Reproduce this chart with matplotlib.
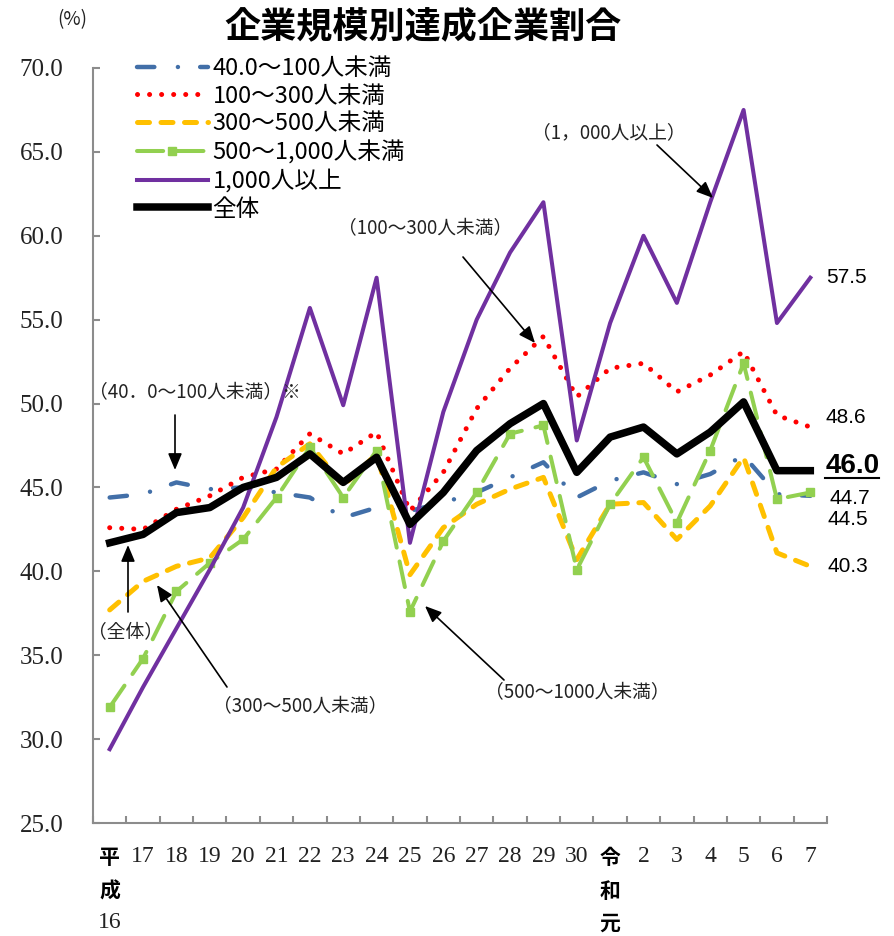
import numpy as np
import matplotlib
matplotlib.use("Agg")
import matplotlib.pyplot as plt
import matplotlib.transforms as mtransforms
from matplotlib.lines import Line2D

# Fiscal years (Heisei 16 .. Heisei 30, Reiwa 1 .. Reiwa 7)
years = ["平成16", "17", "18", "19", "20", "21", "22", "23", "24", "25", "26",
         "27", "28", "29", "30", "令和元", "2", "3", "4", "5", "6", "7"]

# Achievement rate (%) by company size
rate_40_100 = [44.4, 44.6, 45.3, 44.9, 45.0, 44.7, 44.4, 43.2, 43.8, 43.6, 44.1,
               44.7, 45.6, 46.5, 44.4, 45.4, 45.9, 45.2, 45.8, 46.9, 44.6, 44.5]
rate_100_300 = [42.6, 42.5, 43.7, 44.5, 45.6, 46.1, 48.2, 47.0, 48.3, 43.6, 45.9,
                49.7, 52.1, 54.0, 50.4, 52.1, 52.4, 50.7, 51.7, 53.1, 49.3, 48.6]
rate_300_500 = [37.7, 39.4, 40.3, 40.8, 43.2, 46.2, 47.6, 45.1, 47.0, 39.8, 42.6,
                44.0, 44.9, 45.6, 40.7, 44.0, 44.1, 41.9, 43.9, 46.8, 41.1, 40.3]
rate_500_1000 = [31.9, 34.8, 38.8, 40.5, 41.9, 44.4, 47.4, 44.4, 47.2, 37.6, 41.8,
                 44.7, 48.2, 48.7, 40.1, 44.0, 46.8, 42.9, 47.2, 52.4, 44.3, 44.7]
rate_1000_over = [29.4, 33.1, 36.6, 40.1, 43.8, 49.2, 55.7, 49.9, 57.5, 41.7, 49.5,
                  55.0, 59.0, 62.0, 47.8, 54.8, 60.0, 56.0, 62.0, 67.5, 54.8, 57.5]
rate_total = [41.7, 42.2, 43.5, 43.8, 45.0, 45.6, 47.0, 45.3, 46.8, 42.8, 44.7,
              47.2, 48.8, 50.0, 45.9, 48.0, 48.6, 47.0, 48.3, 50.1, 46.0, 46.0]

series_names = ["40.0～100人未満", "100～300人未満", "300～500人未満",
                "500～1,000人未満", "1,000人以上", "全体"]

JP = ["Noto Sans CJK JP", "DejaVu Sans"]
SERIF = ["Liberation Serif", "DejaVu Serif"]
SANS = ["Liberation Sans", "DejaVu Sans"]
GRAY = "#8c8c8c"
TXT = "#222222"

plt.rcParams["font.family"] = JP

W, H = 895, 936
fig = plt.figure(figsize=(W / 100, H / 100), dpi=100)
ax = fig.add_axes([93 / W, 1 - 823 / H, (827 - 93) / W, (823 - 68) / H])

x = np.arange(len(years))

ax.plot(x, rate_40_100, color="#426FA8", lw=3.2,
        linestyle=(0, (3.9, 5.3, 0.01, 5.0)), dash_capstyle="round",
        label=series_names[0], zorder=2)
ax.plot(x, rate_100_300, color="#FF0000", lw=3.6,
        linestyle=(0, (0.01, 2.4)), dash_capstyle="round",
        label=series_names[1], zorder=3)
ax.plot(x, rate_300_500, color="#FFC000", lw=3.6,
        linestyle=(0, (2.4, 2.3)), dash_capstyle="round",
        label=series_names[2], zorder=4)
ax.plot(x, rate_500_1000, color="#92D050", lw=2.9,
        linestyle=(0, (6.5, 3.5)), dash_capstyle="round",
        marker="s", markersize=6.2, markerfacecolor="#92D050",
        markeredgecolor="#92D050", label=series_names[3], zorder=5)
ax.plot(x, rate_1000_over, color="#7030A0", lw=2.9,
        label=series_names[4], zorder=6)
ax.plot(x, rate_total, color="black", lw=5.4,
        label=series_names[5], zorder=7)

# Axes
ax.set_xlim(-0.5, len(years) - 0.5)
ax.set_ylim(25, 70)
yt = np.arange(25, 70.1, 5)
ax.set_yticks(yt)
ax.set_yticklabels([f"{v:.1f}" for v in yt], fontfamily=SERIF, fontsize=18,
                   color=TXT)
ax.tick_params(axis="y", direction="in", length=5, width=1.5, color=GRAY,
               pad=21.5)
ax.set_xticks(np.arange(-0.5, len(years), 1))
ax.set_xticklabels([])
ax.tick_params(axis="x", direction="in", length=5, width=1.5, color=GRAY)
for side in ("top", "right"):
    ax.spines[side].set_visible(False)
for side in ("left", "bottom"):
    ax.spines[side].set_color(GRAY)
    ax.spines[side].set_linewidth(1.5)

# Category labels (era names stacked vertically)
trans = mtransforms.blended_transform_factory(ax.transData, fig.transFigure)
rows = [1 - 857 / H, 1 - 891 / H, 1 - 923 / H]
for i, lab in enumerate(years):
    if lab[0] in "平令":
        parts = [lab[0], lab[1], lab[2:]]
    else:
        parts = [lab]
    for r, p in enumerate(parts):
        if p.isdigit():
            ax.text(i, rows[r], p, transform=trans, ha="center", va="center",
                    fontfamily=SERIF, fontsize=17, color=TXT)
        else:
            ax.text(i, rows[r], p, transform=trans, ha="center", va="center",
                    fontfamily=JP, fontsize=15, fontweight="bold", color="black")

# Title and unit
fig.text(423 / W, 1 - 27 / H, "企業規模別達成企業割合", ha="center", va="center",
         fontsize=26, fontweight="bold", fontfamily=JP)
fig.text(72 / W, 1 - 20 / H, "(%)", ha="center", va="center", fontsize=13.5,
         fontfamily=JP, color=TXT)

# Legend
ax.legend(loc="upper left", bbox_to_anchor=(137 / W, 1 - 57 / H),
          bbox_transform=fig.transFigure, frameon=False,
          handlelength=3.0, handletextpad=0.2, labelspacing=0.2,
          borderpad=0, borderaxespad=0, numpoints=1,
          prop={"family": JP, "size": 17})

# Callouts
def px2data(px, py):
    xd = (px - 93) / ((827 - 93) / len(years)) - 0.5
    yd = 70 - (py - 68) / ((823 - 68) / 45)
    return xd, yd

arrowprops = dict(arrowstyle="-|>,head_length=1.0,head_width=0.42",
                  color="black", lw=1.2, shrinkA=0, shrinkB=0)
callouts = [
    ("（40．0～100人未満）※", (195, 393), (175, 415), (175, 470)),
    ("（全体）", (126, 632), (128, 612), (128, 545)),
    ("（300～500人未満）", (300, 707), (227, 687), (157, 585)),
    ("（500～1000人未満）", (577, 693), (504, 680), (425, 606)),
    ("（100～300人未満）", (425, 229), (463, 257), (535, 343)),
    ("（1，000人以上）", (609, 133), (657, 145), (713, 198)),
]
for text, tpos, start, tip in callouts:
    ax.text(*px2data(*tpos), text, ha="center", va="center", fontsize=13.5,
            fontfamily=JP, color=TXT, zorder=10)
    ax.annotate("", xy=px2data(*tip), xytext=px2data(*start),
                arrowprops=arrowprops, zorder=10)

# End-of-series values
last = len(years) - 1
end_labels = [
    (rate_1000_over[-1], 16, 0, False),
    (rate_100_300[-1], 15, 7, False),
    (rate_total[-1], 15, 3.5, True),
    (rate_500_1000[-1], 19, -4, False),
    (rate_40_100[-1], 17, -17, False),
    (rate_300_500[-1], 17, 0, False),
]
bold_text = None
for val, dxp, dy, bold in end_labels:
    t = ax.annotate(f"{val:.1f}", xy=(last, val),
                    xytext=(dxp * 0.72, dy), textcoords="offset points",
                    ha="left", va="center", fontfamily=SANS,
                    fontsize=20 if bold else 15,
                    fontweight="bold" if bold else "normal",
                    color="black", annotation_clip=False)
    if bold:
        bold_text = t

fig.canvas.draw()
bb = bold_text.get_window_extent(fig.canvas.get_renderer())
fig.add_artist(Line2D([bb.x0, bb.x1], [bb.y0 + 1, bb.y0 + 1], transform=None,
                      color="black", lw=1.5))

fig.savefig("out.png", dpi=100)
